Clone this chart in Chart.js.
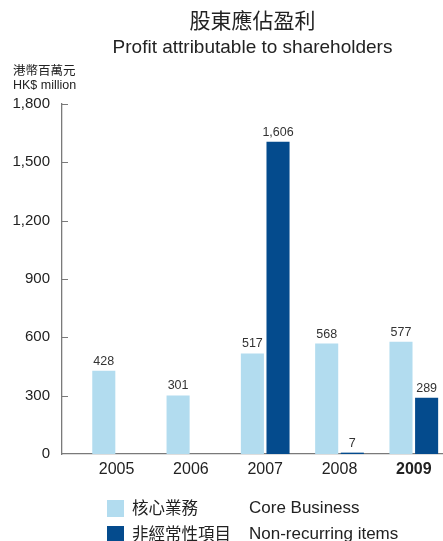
<!DOCTYPE html>
<html>
<head>
<meta charset="utf-8">
<script src="https://cdn.jsdelivr.net/npm/chart.js@4.4.1/dist/chart.umd.min.js"></script>
<style>
  html, body { margin: 0; padding: 0; background: #fff; }
  #wrap { width: 443px; height: 541px; position: relative; }
</style>
</head>
<body>
<div id="wrap"><canvas id="profitChart"></canvas></div>
<script>
const years = ['2005', '2006', '2007', '2008', '2009'];
const coreBusiness = [428, 301, 517, 568, 577];
const nonRecurring = [null, null, 1606, 7, 289];
const yTicks = [0, 300, 600, 900, 1200, 1500, 1800];

const seriesNames = [
  ['核心業務', 'Core Business'],
  ['非經常性項目', 'Non-recurring items']
];
const LIGHT = '#b2dcef';
const DARK = '#044b8d';
const AXIS = '#7a7a7a';
const TEXT = '#222';
const LATIN = '"Liberation Sans", Arial, sans-serif';
const CJK = '"Noto Sans CJK TC", "Noto Sans CJK SC", sans-serif';

const fmt = v => v.toLocaleString('en-US');

// titles, unit caption, inward tick marks, value labels and the legend
const decorations = {
  id: 'decorations',
  afterDraw(chart) {
    const { ctx, chartArea } = chart;
    const y = chart.scales.y;
    const midX = (chartArea.left + chartArea.right) / 2;
    ctx.save();
    ctx.fillStyle = TEXT;
    ctx.textBaseline = 'middle';
    ctx.textAlign = 'center';
    ctx.font = '21px ' + CJK;
    ctx.fillText('股東應佔盈利', midX, 20);
    ctx.font = '19px ' + LATIN;
    ctx.fillText('Profit attributable to shareholders', midX, 48);

    ctx.textAlign = 'left';
    ctx.font = '12.5px ' + CJK;
    ctx.fillText('港幣百萬元', 13, 70);
    ctx.font = '12.5px ' + LATIN;
    ctx.fillText('HK$ million', 13, 86);

    // short tick marks pointing into the plot
    ctx.strokeStyle = AXIS;
    ctx.lineWidth = 1;
    yTicks.slice(1).forEach(v => {
      const py = Math.round(y.getPixelForValue(v)) + 0.5;
      ctx.beginPath();
      ctx.moveTo(chartArea.left, py);
      ctx.lineTo(chartArea.left + 6, py);
      ctx.stroke();
    });

    // value labels above bars
    ctx.textAlign = 'center';
    ctx.textBaseline = 'alphabetic';
    ctx.font = '12.5px ' + LATIN;
    ctx.fillStyle = '#333';
    chart.data.datasets.forEach((ds, di) => {
      chart.getDatasetMeta(di).data.forEach((bar, i) => {
        const v = ds.data[i].y;
        if (v === null) return;
        ctx.fillText(fmt(v), bar.x, bar.y - 6);
      });
    });

    // legend
    const rows = [508, 534];
    const colors = [LIGHT, DARK];
    ctx.textBaseline = 'middle';
    ctx.textAlign = 'left';
    rows.forEach((ry, i) => {
      ctx.fillStyle = colors[i];
      ctx.fillRect(107, ry - 8, 17, 17);
      ctx.fillStyle = TEXT;
      ctx.font = '16.5px ' + CJK;
      ctx.fillText(seriesNames[i][0], 132, ry);
      ctx.font = '17px ' + LATIN;
      ctx.fillText(seriesNames[i][1], 249, ry);
    });
    ctx.restore();
  }
};

new Chart(document.getElementById('profitChart'), {
  type: 'bar',
  data: {
    datasets: [{
      label: seriesNames[0][1],
      data: coreBusiness.map((v, i) => ({ x: i, y: v })),
      backgroundColor: LIGHT
    }, {
      label: seriesNames[1][1],
      data: nonRecurring.map((v, i) => ({ x: i, y: v })),
      backgroundColor: DARK
    }]
  },
  options: {
    responsive: true,
    maintainAspectRatio: false,
    animation: false,
    categoryPercentage: 0.69,
    barPercentage: 0.9,
    layout: { padding: { top: 104, left: 0, right: 0, bottom: 57 } },
    plugins: {
      legend: { display: false },
      title: { display: false },
      tooltip: { enabled: false }
    },
    scales: {
      x: {
        type: 'linear',
        offset: false,
        min: -0.735,
        max: 4.393,
        grid: { display: false, drawTicks: false, offset: false },
        border: { display: true, color: AXIS, width: 1.3 },
        afterBuildTicks: s => { s.ticks = years.map((_, i) => ({ value: i })); },
        afterFit: s => { s.height = 30; },
        ticks: {
          padding: 6,
          color: TEXT,
          autoSkip: false,
          maxRotation: 0,
          callback: v => years[v],
          font: c => ({ family: LATIN, size: 16, weight: c.tick && c.tick.value === 4 ? 'bold' : 'normal' })
        }
      },
      y: {
        min: 0,
        max: 1800,
        grid: { display: false, drawTicks: false },
        border: { display: true, color: AXIS, width: 1.3 },
        afterBuildTicks: s => { s.ticks = yTicks.map(v => ({ value: v })); },
        afterFit: s => { s.width = 62; },
        ticks: {
          padding: 12,
          color: TEXT,
          font: { family: LATIN, size: 15 },
          callback: v => fmt(v)
        }
      }
    }
  },
  plugins: [decorations]
});
</script>
</body>
</html>
